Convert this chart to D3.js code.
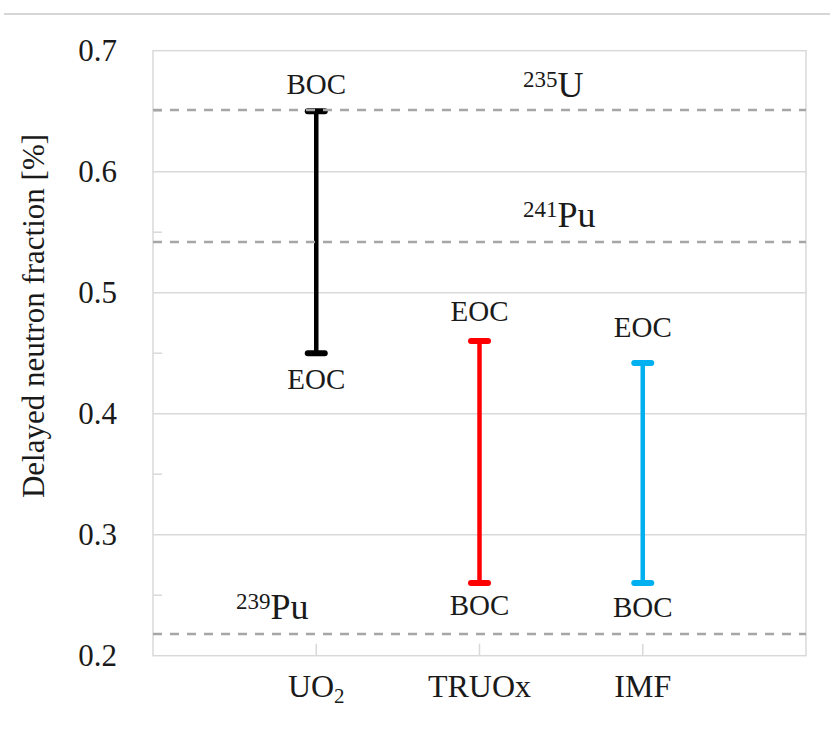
<!DOCTYPE html>
<html><head><meta charset="utf-8">
<script src="https://cdn.jsdelivr.net/npm/d3@7"></script>
<style>body{margin:0;background:#fff}svg{display:block}</style>
</head><body>
<svg id="c" width="830" height="733"></svg>
<script>
const categories = ["UO2", "TRUOx", "IMF"];
const bocValues = [0.65, 0.26, 0.26];
const eocValues = [0.45, 0.46, 0.442];
const seriesColors = ["#000000", "#ff0000", "#00b0f0"];
const yTicks = [0.2, 0.3, 0.4, 0.5, 0.6, 0.7];
const yMinorTicks = [0.25, 0.35, 0.45, 0.55, 0.65];
const refNames = ["235", "241", "239"];
const refElems = ["U", "Pu", "Pu"];
const refValues = [0.651, 0.542, 0.218];

const svg = d3.select("#c");
const L = 153, R = 806, T = 50.7, B = 655.7;
const y = d3.scaleLinear().domain([0.2, 0.7]).range([B, T]);
const x = d3.scaleLinear().domain([0, categories.length + 1]).range([L, R]);
const serif = "'Liberation Serif','Times New Roman',serif";
const grid = "#d9d9d9";
const ink = "#1a1a1a";

// top separator line
svg.append("line").attr("x1", 4).attr("x2", 830).attr("y1", 14).attr("y2", 14)
  .attr("stroke", "#c8c8c8").attr("stroke-width", 1.5);

// gridlines
svg.append("g").selectAll("line").data(yTicks.slice(1, -1)).join("line")
  .attr("x1", L).attr("x2", R).attr("y1", d => y(d)).attr("y2", d => y(d))
  .attr("stroke", grid).attr("stroke-width", 1.5);
// minor ticks
svg.append("g").selectAll("line").data(yMinorTicks).join("line")
  .attr("x1", L).attr("x2", L + 9).attr("y1", d => y(d)).attr("y2", d => y(d))
  .attr("stroke", grid).attr("stroke-width", 1.5);
// frame
svg.append("rect").attr("x", L).attr("y", T).attr("width", R - L).attr("height", B - T)
  .attr("fill", "none").attr("stroke", grid).attr("stroke-width", 1.5);
// category ticks
svg.append("g").selectAll("line").data(categories).join("line")
  .attr("x1", (d, i) => x(i + 1)).attr("x2", (d, i) => x(i + 1))
  .attr("y1", B).attr("y2", B - 12)
  .attr("stroke", grid).attr("stroke-width", 1.5);

// y tick labels
svg.append("g").selectAll("text").data(yTicks).join("text")
  .attr("x", 117).attr("y", d => y(d) + 10).attr("text-anchor", "end")
  .attr("font-family", serif).attr("font-size", 31).attr("fill", ink)
  .text(d => d.toFixed(1));

// axis title
svg.append("text").attr("transform", `translate(44,316) rotate(-90)`)
  .attr("text-anchor", "middle").attr("font-family", serif).attr("font-size", 31)
  .attr("fill", ink).text("Delayed neutron fraction [%]");

// x labels
const xl = svg.append("g").selectAll("text").data(categories).join("text")
  .attr("x", (d, i) => x(i + 1)).attr("y", 697).attr("text-anchor", "middle")
  .attr("font-family", serif).attr("font-size", 32).attr("fill", ink);
xl.each(function(d) {
  const t = d3.select(this);
  if (d === "UO2") {
    t.append("tspan").text("UO");
    t.append("tspan").attr("font-size", 21).attr("dy", 6).text("2");
  } else t.text(d);
});

// bars
const topOff = [-17.6, -19.7, -25.7];
const botOff = [36, 31.7, 33.7];
const bars = svg.append("g");
categories.forEach((c, i) => {
  const cx = x(i + 1), col = seriesColors[i];
  bars.append("line").attr("x1", cx).attr("x2", cx)
    .attr("y1", y(bocValues[i])).attr("y2", y(eocValues[i]))
    .attr("stroke", col).attr("stroke-width", 4.5);
  [bocValues[i], eocValues[i]].forEach(v => {
    bars.append("line").attr("x1", cx - 8.5).attr("x2", cx + 8.5)
      .attr("y1", y(v)).attr("y2", y(v))
      .attr("stroke", col).attr("stroke-width", 6).attr("stroke-linecap", "round");
  });
  const top = Math.max(bocValues[i], eocValues[i]);
  const bot = Math.min(bocValues[i], eocValues[i]);
  const topLab = bocValues[i] >= eocValues[i] ? "BOC" : "EOC";
  const botLab = topLab === "BOC" ? "EOC" : "BOC";
  bars.append("text").attr("x", cx).attr("y", y(top) + topOff[i]).attr("text-anchor", "middle")
    .attr("font-family", serif).attr("font-size", 29).attr("fill", ink).text(topLab);
  bars.append("text").attr("x", cx).attr("y", y(bot) + botOff[i]).attr("text-anchor", "middle")
    .attr("font-family", serif).attr("font-size", 29).attr("fill", ink).text(botLab);
});

// reference dashed lines (drawn on top)
svg.append("g").selectAll("line").data(refValues).join("line")
  .attr("x1", L).attr("x2", R).attr("y1", d => y(d)).attr("y2", d => y(d))
  .attr("stroke", "#a6a6a6").attr("stroke-width", 2.5).attr("stroke-dasharray", "9,8");

// isotope labels
const refPos = [[523, 97], [523, 227], [236, 619]];
refNames.forEach((n, i) => {
  const t = svg.append("text").attr("x", refPos[i][0]).attr("y", refPos[i][1])
    .attr("font-family", serif).attr("font-size", 36).attr("fill", ink);
  t.append("tspan").attr("font-size", 23).attr("dy", -10).text(n);
  t.append("tspan").attr("dy", 10).text(refElems[i]);
});
</script>
</body></html>
